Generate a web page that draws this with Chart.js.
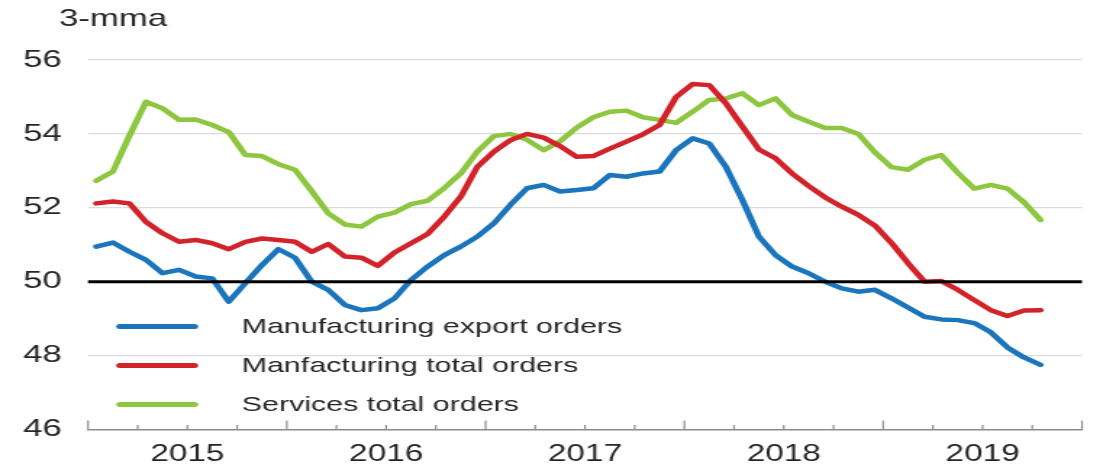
<!DOCTYPE html>
<html><head><meta charset="utf-8">
<script src="https://cdn.jsdelivr.net/npm/chart.js@4.4.1/dist/chart.umd.min.js"></script>
<style>
html,body{margin:0;padding:0;background:#fff;overflow:hidden;}
#wrap{position:absolute;left:0;top:0;width:761px;height:469px;transform:scaleX(1.4494);transform-origin:0 0;}
canvas{display:block;}
</style></head><body>
<div id="wrap"><canvas id="c" width="761" height="469"></canvas></div>
<script>
// Monthly, Jan 2015 .. Oct 2019 (3-month moving averages)
const years = ['2015', '2016', '2017', '2018', '2019'];
const seriesNames = ['Manufacturing export orders', 'Manfacturing total orders', 'Services total orders'];
const unitLabel = '3-mma';
const yTicks = [46, 48, 50, 52, 54, 56];
const exportOrders = [
  50.95, 51.06, 50.81, 50.59, 50.23, 50.32, 50.14, 50.09, 49.46, 49.96, 50.45, 50.88,
  50.65, 50.0, 49.78, 49.37, 49.23, 49.28, 49.55, 50.05, 50.41, 50.72, 50.95, 51.22,
  51.58, 52.08, 52.53, 52.62, 52.44, 52.48, 52.53, 52.89, 52.84, 52.93, 52.98, 53.56,
  53.88, 53.74, 53.11, 52.21, 51.22, 50.72, 50.41, 50.23, 50.0, 49.82, 49.73, 49.78,
  49.55, 49.3, 49.05, 48.98, 48.96, 48.88, 48.63, 48.22, 47.95, 47.75
];
const totalOrders = [
  52.12, 52.17, 52.12, 51.62, 51.31, 51.08, 51.13, 51.04, 50.88, 51.08, 51.17, 51.13,
  51.08, 50.81, 51.02, 50.68, 50.65, 50.43, 50.79, 51.04, 51.29, 51.76, 52.30, 53.11,
  53.52, 53.83, 54.0, 53.9, 53.67, 53.38, 53.4, 53.6, 53.79, 53.99, 54.24, 55.0,
  55.35, 55.32, 54.83, 54.2, 53.58, 53.34, 52.93, 52.59, 52.28, 52.03, 51.81, 51.52,
  51.05, 50.5, 50.0, 50.02, 49.78, 49.5, 49.23, 49.07, 49.22, 49.23
];
const servicesOrders = [
  52.73, 52.98, 53.95, 54.87, 54.69, 54.38, 54.39, 54.24, 54.05, 53.43, 53.4, 53.18,
  53.03, 52.45, 51.85, 51.55, 51.49, 51.76, 51.87, 52.1, 52.19, 52.53, 52.93, 53.52,
  53.94, 54.0, 53.84, 53.56, 53.8, 54.17, 54.45, 54.6, 54.63, 54.45, 54.38, 54.3,
  54.6, 54.92, 54.96, 55.1, 54.78, 54.96, 54.51, 54.33, 54.16, 54.16, 54.0, 53.5,
  53.1, 53.03, 53.3, 53.43, 52.95, 52.52, 52.62, 52.52, 52.15, 51.67
];
const colors = ['#1b75bc', '#d2232a', '#8dc63f'];

const FONT = "'Liberation Sans', Arial, sans-serif";
const TEXT = '#262626';
const toPoints = arr => arr.map((v, i) => ({ x: i + 0.5, y: v }));
const monthsTotal = years.length * 12;

const unitLabelPlugin = {
  id: 'unitLabel',
  afterDraw(chart) {
    const ctx = chart.ctx;
    ctx.save();
    ctx.font = '24px ' + FONT;
    ctx.fillStyle = TEXT;
    ctx.textAlign = 'left';
    ctx.textBaseline = 'middle';
    ctx.fillText(unitLabel, chart.chartArea.left - 20, 19);
    ctx.restore();
  }
};

const refLinePlugin = {
  id: 'refLine',
  afterDatasetsDraw(chart) {
    const { ctx, chartArea, scales } = chart;
    const y = scales.y.getPixelForValue(50);
    ctx.save();
    ctx.strokeStyle = '#000';
    ctx.lineWidth = 3;
    ctx.beginPath();
    ctx.moveTo(chartArea.left, y);
    ctx.lineTo(chartArea.right, y);
    ctx.stroke();
    ctx.restore();
  }
};

const tickMarksPlugin = {
  id: 'tickMarks',
  afterDraw(chart) {
    const { ctx, chartArea, scales } = chart;
    ctx.save();
    ctx.strokeStyle = '#8c8c8c';
    ctx.lineWidth = 1.2;
    for (let m = 0; m <= monthsTotal; m += 3) {
      const x = scales.x.getPixelForValue(m);
      const len = (m % 12 === 0) ? 9 : 4.5;
      ctx.beginPath();
      ctx.moveTo(x, chartArea.bottom);
      ctx.lineTo(x, chartArea.bottom - len);
      ctx.stroke();
    }
    ctx.restore();
  }
};

const insideLegendPlugin = {
  id: 'insideLegend',
  afterDraw(chart) {
    const { ctx, chartArea } = chart;
    const rowsFromBottom = [103, 64, 25];
    ctx.save();
    chart.data.datasets.forEach((ds, k) => {
      const y = chartArea.bottom - rowsFromBottom[k];
      ctx.strokeStyle = ds.borderColor;
      ctx.lineWidth = 5;
      ctx.lineCap = 'round';
      ctx.beginPath();
      ctx.moveTo(chartArea.left + 22, y);
      ctx.lineTo(chartArea.left + 73.5, y);
      ctx.stroke();
      ctx.font = '21px ' + FONT;
      ctx.fillStyle = TEXT;
      ctx.textAlign = 'left';
      ctx.textBaseline = 'middle';
      ctx.fillText(ds.label, chartArea.left + 106, y + 1);
    });
    ctx.restore();
  }
};

const series = [exportOrders, totalOrders, servicesOrders];
new Chart(document.getElementById('c'), {
  type: 'line',
  data: {
    datasets: series.map((arr, k) => ({
      label: seriesNames[k],
      data: toPoints(arr),
      borderColor: colors[k],
      backgroundColor: colors[k],
      borderWidth: 4.5,
      pointRadius: 0,
      tension: 0,
      borderJoinStyle: 'round',
      borderCapStyle: 'round',
      fill: false
    }))
  },
  options: {
    responsive: false,
    animation: false,
    events: [],
    layout: { padding: { left: 0, right: 14.5, top: 60, bottom: 0 } },
    plugins: { legend: { display: false }, title: { display: false }, tooltip: { enabled: false } },
    scales: {
      x: {
        type: 'linear',
        min: 0,
        max: monthsTotal,
        grid: { display: false, drawTicks: false },
        border: { display: true, color: '#8c8c8c', width: 1.5 },
        afterBuildTicks: s => { s.ticks = years.map((y, k) => ({ value: 6 + 12 * k })); },
        afterFit: s => { s.height = 39.5; },
        ticks: {
          autoSkip: false,
          maxRotation: 0,
          padding: 11,
          color: TEXT,
          font: { family: FONT, size: 23 },
          callback: v => years[Math.round((v - 6) / 12)]
        }
      },
      y: {
        min: yTicks[0],
        max: yTicks[yTicks.length - 1],
        afterBuildTicks: s => { s.ticks = yTicks.map(v => ({ value: v })); },
        afterFit: s => { s.width = 60.7; },
        border: { display: false },
        grid: {
          drawTicks: false,
          lineWidth: 1.2,
          color: c => (c.tick && (c.tick.value === 50 || c.tick.value === 46)) ? 'rgba(0,0,0,0)' : '#dcdcdc'
        },
        ticks: {
          padding: 18,
          color: TEXT,
          font: { family: FONT, size: 24 }
        }
      }
    }
  },
  plugins: [unitLabelPlugin, refLinePlugin, tickMarksPlugin, insideLegendPlugin]
});
</script>
</body></html>
